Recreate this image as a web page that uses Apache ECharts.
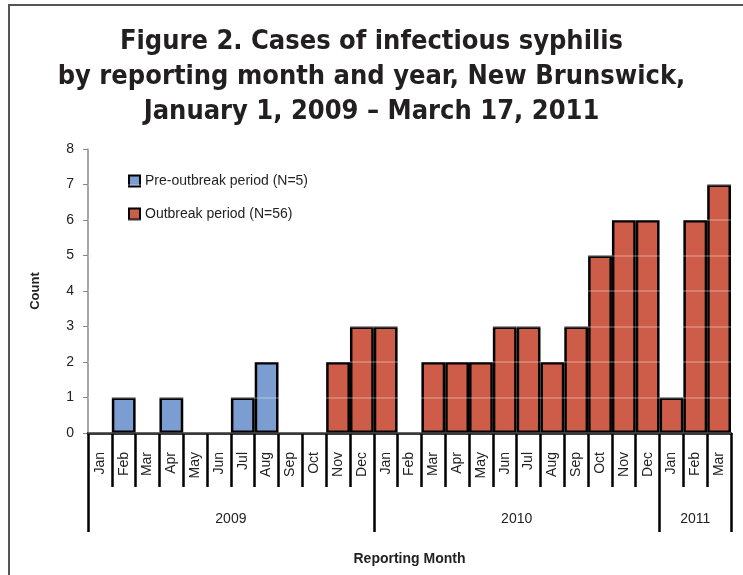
<!DOCTYPE html>
<html>
<head>
<meta charset="utf-8">
<script src="https://cdn.jsdelivr.net/npm/echarts@6/dist/echarts.min.js"></script>
<style>
body{margin:0;background:#fff;}
#main{width:743px;height:575px;}
#frame{position:absolute;left:8px;top:4px;width:735px;height:571px;border-left:2px solid #555;border-top:2px solid #555;pointer-events:none;}
</style>
</head>
<body>
<div id="main"></div>
<div id="frame"></div>
<script>
var months=['Jan','Feb','Mar','Apr','May','Jun','Jul','Aug','Sep','Oct','Nov','Dec',
	'Jan','Feb','Mar','Apr','May','Jun','Jul','Aug','Sep','Oct','Nov','Dec',
	'Jan','Feb','Mar'];
var preOutbreak=['-',1,'-',1,'-','-',1,2,'-','-','-','-',
	'-','-','-','-','-','-','-','-','-','-','-','-',
	'-','-','-'];
var outbreak=['-','-','-','-','-','-','-','-','-','-',2,3,
	3,'-',2,2,2,3,3,2,3,5,6,6,
	1,6,7];
var years=['2009','2010','2011'];
var yearBounds=[0,12,24,27];
var yearMids=[6,18,25.5];

var myChart=echarts.init(document.getElementById('main'));
var font='"Liberation Sans", sans-serif';

myChart.setOption({
	animation:false,
	title:{
		text:'Figure 2. Cases of infectious syphilis\nby reporting month and year, New Brunswick,\nJanuary 1, 2009 \u2013 March 17, 2011',
		left:'center',
		top:19,
		textStyle:{
			fontFamily:'"DejaVu Sans Condensed", "DejaVu Sans", sans-serif',
			fontWeight:'bold',
			fontSize:27,
			lineHeight:35,
			color:'#231f20'
		}
	},
	legend:{
		orient:'vertical',
		left:123,
		top:169,
		itemGap:19,
		itemWidth:11,
		itemHeight:11,
		icon:'rect',
		textStyle:{fontFamily:font,fontSize:14,color:'#222'},
		data:['Pre-outbreak period (N=5)','Outbreak period (N=56)']
	},
	grid:{left:88,right:12,top:149,bottom:142},
	xAxis:[{
		type:'category',
		data:months,
		axisLine:{lineStyle:{color:'#000',width:2.5}},
		axisTick:{show:true,interval:0,length:54,lineStyle:{color:'#000',width:2.5}},
		axisLabel:{interval:0,rotate:90,margin:19,fontFamily:font,fontSize:14,color:'#222'}
	},{
		type:'value',
		min:0,
		max:27,
		position:'bottom',
		axisLine:{show:false},
		splitLine:{show:false},
		axisTick:{show:true,customValues:yearBounds,length:99,lineStyle:{color:'#000',width:2.5}},
		axisLabel:{
			customValues:yearMids,
			margin:79,
			fontFamily:font,
			fontSize:14,
			color:'#222',
			formatter:function(v){
				return years[yearMids.indexOf(v)];
			}
		},
		name:'Reporting Month',
		nameLocation:'middle',
		nameGap:119,
		nameTextStyle:{fontFamily:font,fontWeight:'bold',fontSize:14,color:'#222'}
	}],
	yAxis:[{
		type:'value',
		min:0,
		max:8,
		interval:1,
		axisLine:{show:true,lineStyle:{color:'#888',width:1.5}},
		axisTick:{show:true,length:5,lineStyle:{color:'#888'}},
		axisLabel:{margin:14,fontFamily:font,fontSize:14,color:'#222'},
		splitLine:{show:false},
		name:'Count',
		nameLocation:'middle',
		nameGap:46,
		nameTextStyle:{fontFamily:font,fontWeight:'bold',fontSize:13,color:'#222'}
	},{
		type:'value',
		min:0,
		max:8,
		interval:1,
		z:10,
		axisLine:{show:false},
		axisTick:{show:false},
		axisLabel:{show:false},
		splitLine:{show:true,lineStyle:{color:'rgba(255,255,255,0.3)',width:1.5}}
	}],
	series:[{
		name:'Pre-outbreak period (N=5)',
		type:'bar',
		stack:'all',
		barCategoryGap:'0%',
		data:preOutbreak,
		itemStyle:{color:'#7b9dd1',borderColor:'#000',borderWidth:2.5}
	},{
		name:'Outbreak period (N=56)',
		type:'bar',
		stack:'all',
		barCategoryGap:'0%',
		data:outbreak,
		itemStyle:{color:'#cd5d48',borderColor:'#000',borderWidth:2.5}
	}]
});
</script>
</body>
</html>
